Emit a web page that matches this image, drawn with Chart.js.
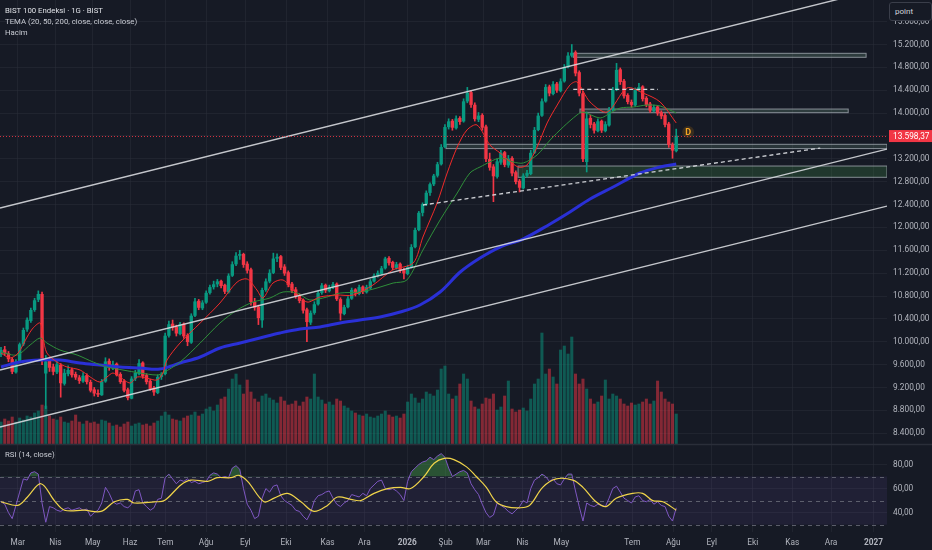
<!DOCTYPE html>
<html><head><meta charset="utf-8">
<script src="https://cdn.jsdelivr.net/npm/chart.js@4.4.1/dist/chart.umd.min.js"></script>
<style>
html,body{margin:0;padding:0;background:#161a25;overflow:hidden;}
#wrap{position:relative;width:932px;height:550px;background:#161a25;}
canvas{display:block;}
.lg{position:absolute;left:5px;font:7.8px Roboto,"Noto Sans",sans-serif;color:#c9ccd4;white-space:nowrap;line-height:11px;}
#pt{position:absolute;left:889px;top:2px;width:36px;height:17px;border:1px solid #3a3e4a;border-radius:3px;background:#161a25;font:8px Roboto,sans-serif;color:#d1d4dc;line-height:17px;padding-left:5px;box-sizing:content-box;}
</style></head><body>
<div id="wrap">
<canvas id="c" width="932" height="550" style="width:932px;height:550px"></canvas>
<div class="lg" style="top:5px;color:#dfe1e6">BIST 100 Endeksi · 1G · BIST</div>
<div class="lg" style="top:16px">TEMA (20, 50, 200, close, close, close)</div>
<div class="lg" style="top:27px">Hacim</div>
<div class="lg" style="top:449px">RSI (14, close)</div>
<div id="pt">point</div>
</div>
<script>
// ---------- DATA (2-day bars) ----------
const opens = [
9780,9860,9790,9690,9470,9660,9960,10220,10370,10560,
10740,10830,9450,9660,9560,9470,9590,9270,9440,9510,
9430,9370,9310,9410,9290,9160,9090,9070,9310,9660,
9540,9610,9430,9310,9160,9010,9360,9440,9630,9410,
9310,9190,9110,9390,9440,10110,10310,10260,10140,10310,
10110,9990,10460,10710,10590,10690,10860,10960,11010,11060,
10990,10870,11160,11360,11510,11530,11360,11260,10690,10610,
10380,10910,11060,11210,11460,11490,11310,11210,11010,10910,
10810,10730,10560,10340,10510,10660,10860,10990,10890,10960,
11010,10740,10490,10610,10760,10910,10840,10960,10870,10940,
11060,11160,11190,11290,11460,11390,11290,11360,11260,11190,
11310,11660,11960,12260,12410,12610,12760,12910,13110,13410,
13760,13860,13740,13910,13860,14210,14360,14140,13890,13960,
13760,13190,13060,12890,13140,13310,13090,13210,12960,12810,
12690,12910,12940,13310,13710,13960,14210,14460,14340,14510,
14390,14560,14810,15010,15060,14710,14340,13150,13910,13810,
13690,13860,13690,13790,14060,14410,14760,14560,14310,14190,
14140,14410,14460,14260,14160,14040,14110,14010,13960,13810,
13440,13340];
const highs = [
9900,9920,9830,9720,9690,9980,10240,10420,10590,10760,
10890,10870,9760,9720,9610,9680,9620,9520,9580,9540,
9470,9410,9460,9440,9330,9200,9160,9340,9720,9700,
9660,9630,9460,9340,9190,9390,9500,9690,9650,9440,
9340,9220,9420,9460,10150,10360,10380,10290,10340,10330,
10140,10490,10760,10740,10720,10890,10990,11060,11090,11080,
11010,11190,11400,11560,11600,11550,11400,11290,10760,10640,
10940,11100,11260,11550,11540,11510,11350,11240,11040,10950,
10840,10750,10590,10540,10700,10890,11020,11010,10990,11040,
11030,10770,10640,10790,10940,10930,10990,10980,10990,11090,
11190,11240,11320,11480,11490,11410,11390,11380,11290,11340,
11700,11990,12280,12430,12640,12780,12930,13140,13450,13800,
13900,13890,13950,13940,14250,14450,14390,14180,14010,13990,
13790,13300,13100,13200,13350,13330,13260,13240,12990,12840,
12940,13000,13350,13750,14000,14250,14500,14490,14550,14540,
14600,14850,15060,15200,15090,14740,14380,14020,13960,13840,
13900,13880,13850,14100,14450,14870,14790,14590,14340,14230,
14440,14520,14480,14290,14190,14140,14130,14040,13990,13840,
13480,13720];
const lows = [
9740,9760,9650,9440,9450,9640,9930,10180,10340,10530,
10700,9600,8830,9480,9420,9440,9030,9240,9400,9380,
9340,9270,9290,9260,9120,9050,9040,9060,9290,9500,
9510,9400,9270,9120,8980,9000,9320,9420,9360,9260,
9150,9060,9090,9340,9420,10080,10200,10100,10120,10060,
9930,9970,10440,10560,10560,10670,10830,10920,10960,10940,
10840,10850,11140,11330,11440,11300,11200,10640,10550,10300,
10250,10880,11030,11190,11400,11260,11160,10960,10860,10760,
10680,10500,10000,10300,10480,10640,10830,10860,10870,10930,
10720,10380,10470,10590,10740,10800,10820,10840,10850,10920,
11040,11130,11170,11270,11340,11260,11270,11210,11100,11170,
11290,11640,11940,12200,12380,12560,12730,12880,13090,13390,
13720,13700,13720,13800,13840,14180,14100,13860,13850,13700,
13150,13000,12450,12860,13100,13060,13050,12900,12760,12620,
12670,12880,12920,13290,13690,13940,14190,14300,14320,14360,
14370,14540,14790,14980,14650,14300,13150,12970,13740,13650,
13670,13660,13670,13770,14040,14390,14500,14260,14160,14100,
14120,14390,14210,14110,14010,14020,13960,13900,13760,13400,
13210,13320];
const closes = [
9850,9800,9700,9480,9650,9950,10200,10380,10550,10720,
10830,9700,9650,9550,9480,9600,9280,9450,9500,9420,
9380,9320,9400,9300,9150,9100,9080,9300,9650,9550,
9600,9420,9300,9150,9020,9350,9450,9620,9400,9300,
9180,9120,9380,9420,10100,10300,10250,10150,10300,10100,
10000,10450,10700,10600,10680,10850,10950,11000,11050,10980,
10880,11150,11350,11500,11520,11350,11250,10700,10600,10420,
10900,11050,11200,11450,11480,11300,11200,11000,10900,10800,
10720,10550,10350,10500,10650,10850,10980,10900,10950,11000,
10750,10500,10600,10750,10900,10850,10950,10880,10950,11050,
11150,11200,11280,11450,11380,11300,11350,11250,11200,11300,
11650,11950,12250,12400,12600,12750,12900,13100,13400,13750,
13850,13750,13900,13850,14200,14350,14150,13900,13950,13750,
13200,13050,12900,13150,13300,13100,13200,12950,12800,12700,
12900,12950,13300,13700,13950,14200,14450,14350,14500,14400,
14550,14800,15000,15050,14700,14350,13200,13900,13800,13700,
13850,13700,13800,14050,14400,14750,14550,14300,14200,14150,
14400,14450,14250,14150,14050,14100,14000,13950,13800,13450,
13350,13598.37];
const volumes = [
44,50,46,54,44,52,48,56,54,62,
66,78,76,56,50,48,54,44,42,46,
58,44,40,46,42,44,40,48,46,42,
36,38,34,40,44,36,40,42,38,40,
36,42,46,56,64,58,50,48,46,52,
56,58,64,56,60,70,74,66,78,90,
94,110,130,140,118,100,128,104,90,84,
96,100,92,88,82,94,86,78,80,86,
76,84,94,90,140,94,88,80,84,78,
90,86,76,72,66,62,58,56,60,54,
52,56,60,66,58,54,56,52,60,84,
100,92,82,90,104,100,96,108,150,156,
100,90,96,120,140,130,86,74,70,80,
92,90,100,68,74,96,126,70,64,68,
72,66,90,120,130,222,140,150,134,120,
188,196,180,214,140,120,130,110,90,80,
84,96,128,90,100,96,90,80,76,82,
78,80,84,90,80,86,126,104,90,84,
80,60];
const rsiValues = [
49,47,40,35,46,57,68,67,73,74,
72,48,32,45,44,42,41,43,44,42,
43,44,42,43,37,40,42,48,61,56,
49,47,48,45,44,47,58,59,48,45,
42,44,51,52,69,72,68,64,67,66,
68,65,66,64,65,66,71,73,72,69,
70,69,77,79,76,60,47,42,35,37,
52,60,57,62,63,54,50,48,46,42,
41,37,34,40,50,54,55,57,58,52,
47,45,48,50,55,54,53,56,54,60,
63,66,67,60,59,60,58,55,50,66,
74,77,80,82,83,86,84,87,89,86,
77,70,72,74,75,73,64,59,55,47,
40,36,38,48,46,44,41,39,42,45,
50,48,60,67,69,72,70,66,68,64,
63,68,72,72,58,45,33,48,46,45,
47,46,45,52,60,62,57,52,50,48,
53,54,50,49,51,47,49,46,45,37,
33,44];
const rsiMaIdx = [0,4.5,7.1,10.7,14.3,17,22.3,26.8,30.4,33.9,35.7,41.1,43.8,48.2,50.9,55.4,58,61.6,63.8,66.1,70.5,73.2,76.8,80.4,83.9,87.5,90.2,93.8,96.4,100,103.6,107.1,109.8,113.4,116.1,118.8,121.4,124.8,127.4,130.1,132.7,135.4,139,141.7,145.2,148.8,153.3,156,159.5,162.2,164.9,169.3,172,174.7,177.4,181];
const rsiMaValues = [49,46,53,64,50,42,42,41,49,51,48,49,50,63,67,66,69,69,71,66,49,52,56,49,41,46,53,51,50,56,60,61,60,70,81,85,84,78,70,61,49,45,44,46,61,68,67,61,49,45,52,56,56,50,49,42];
const tema20Idx = [0,2.4,4.6,7,8.6,10.5,11.3,12.3,15,17.7,21.2,23.9,26.5,28.4,30,31.9,34.6,36.5,39.1,41.8,43.4,44.5,48,53.4,58.7,63.3,66,68.6,70.2,72.9,75.6,78.3,82,85.5,90,94.4,99.7,105,110.5,113.1,116.9,119.6,122.3,124.9,127.6,131.1,133.8,138.6,141,143.7,146.4,149.1,152.5,154.4,157.9,162.5,167.8,172.1,176.7,181];
const tema20Values = [9803,9715,9803,10083,10240,10328,10065,9803,9645,9558,9505,9383,9295,9383,9453,9383,9278,9383,9365,9330,9453,9680,9978,10328,10678,11045,11097,10905,10765,11027,11080,10905,10695,10783,10817,10817,10992,11255,11378,11832,12427,12952,13407,13704,13792,13442,13302,13057,13092,13407,13827,14141,14491,14544,14194,14019,14439,14351,14194,13827];
const tema50Idx = [0,4.3,7.8,10.5,12.3,15.8,20.4,24.7,28.4,32.7,37.3,41.8,43.4,48,53.4,58.7,63.3,67.6,72.1,75.6,79.4,82.8,87.4,90.9,96.2,100.8,105.1,108.8,113.1,117.7,122.3,125.7,128.4,133.8,137.3,140,143.7,147.2,150.7,154.4,156,160.6,163.3,166,169.5,173.2,176.7,181];
const tema50Values = [9820,9768,9943,10065,9978,9855,9768,9645,9558,9505,9453,9418,9453,9645,9978,10328,10555,10695,10765,10870,10852,10730,10783,10852,10870,10940,11027,11080,11605,12130,12602,12952,13057,13214,13144,13127,13267,13529,13757,13967,14019,13914,14002,14089,14106,14141,14124,14002];
const tema200Idx = [0,5.1,10.5,15.8,21.2,26.5,31.9,37.3,42.6,48,53.4,58.7,64.1,69.4,74.8,80.2,85.5,90.9,96.2,101.6,107,112.3,117.7,123.1,128.4,133.8,139.9,147.2,152.5,157.9,164.1,171.3,176.7,181];
const tema200Values = [9558,9645,9680,9680,9628,9593,9558,9540,9523,9628,9733,9890,9978,10065,10153,10223,10258,10328,10380,10433,10520,10643,10870,11220,11465,11657,11797,12060,12269,12497,12707,12952,13057,13109];
const monthTickIdx = [4.48,14.56,24.58,34.58,44.05,54.96,65.5,76.4,87.5,97.4,108.9,119.2,129.3,139.8,150.2,169.25,180.2,190.5,201.5,212.1,222.5,233.9];
const monthLabels = ['Mar','Nis','May','Haz','Tem','Ağu','Eyl','Eki','Kas','Ara','2026','Şub','Mar','Nis','May','Tem','Ağu','Eyl','Eki','Kas','Ara','2027'];
const priceTicks = [8400,8800,9200,9600,10000,10400,10800,11200,11600,12000,12400,12800,13200,13600,14000,14400,14800,15200,15600];
const rsiTicks = [40,60,80];
const rsiLevels = [70,50,30];
const channelIdx = [-0.27, 237.5];
const channelStartPrices = [12339, 9505, 8508];
const channelEndPrices = [16204, 13370, 12373];
const diagDashIdx = [113.1, 219.6];
const diagDashPrices = [12392, 13389];
const flatDashIdx = [153.4, 176.1];
const flatDashPrice = 14416;
const zoneStartIdx = [153.4, 155.2, 119.3, 138.6];
const zoneEndIdx = [231.9, 227.1, 237.5, 237.5];
const zoneTop = [15046, 14071, 13454, 13074];
const zoneBottom = [14976, 14007, 13379, 12877];
const dividendIdx = 184.2;
const dividendPrice = 13669;

// ---------- STYLE ----------
const BG = '#161a25', GRID = 'rgba(42,46,57,0.55)', TXT = '#b2b5be';
const UP = '#089981', DOWN = '#f23645';
const UPV = 'rgba(8,153,129,0.5)', DOWNV = 'rgba(242,54,69,0.5)';
const zoneFills = ['rgba(110,150,130,0.28)','rgba(110,150,130,0.28)','rgba(110,150,130,0.22)','rgba(76,175,80,0.2)'];
const zoneBorder = 'rgba(170,176,186,0.75)';

Chart.defaults.font.family = 'Roboto, "Noto Sans", sans-serif';
Chart.defaults.font.size = 8.3;
Chart.defaults.color = TXT;

const fmtTR = v => {
  const [a, b] = Number(v).toFixed(2).split('.');
  return a.replace(/\B(?=(\d{3})+(?!\d))/g, '.') + ',' + b;
};
const pts = (xs, ys) => xs.map((x, k) => ({x, y: ys[k]}));
const bars = closes.map((_, i) => i);
const up = i => closes[i] >= opens[i];
const lastClose = closes[closes.length - 1];

const line = (data, color, width, extra) => Object.assign({
  type: 'line', data, borderColor: color, borderWidth: width, pointRadius: 0,
  fill: false, yAxisID: 'y', tension: 0
}, extra || {});

const datasets = [
  {type:'bar', label:'Hacim', data: bars.map(i => ({x:i, y:volumes[i]})), yAxisID:'yv',
   backgroundColor: bars.map(i => up(i) ? UPV : DOWNV), barThickness: 2.4, grouped:false, order: 20},
  {type:'bar', label:'wick', data: bars.map(i => ({x:i, y:[lows[i], highs[i]]})), yAxisID:'y',
   backgroundColor: bars.map(i => up(i) ? UP : DOWN), barThickness: 1, grouped:false, order: 18},
  {type:'bar', label:'body', data: bars.map(i => ({x:i, y:[opens[i], closes[i]]})), yAxisID:'y',
   backgroundColor: bars.map(i => up(i) ? UP : DOWN), barThickness: 2.7, minBarLength: 1, grouped:false, order: 17},
  line(pts(tema200Idx, tema200Values), '#2a30d6', 3, {order: 15, tension: 0.35}),
  line(pts(tema50Idx, tema50Values), '#2f8f3a', 1, {order: 14, tension: 0.3}),
  line(pts(tema20Idx, tema20Values), '#f22a2a', 1, {order: 13, tension: 0.3}),
  ...channelStartPrices.map((p, k) => line(pts(channelIdx, [p, channelEndPrices[k]]), 'rgba(215,217,222,0.9)', 1.4, {order: 10})),
  line(pts(diagDashIdx, diagDashPrices), 'rgba(225,227,232,0.9)', 1.3, {order: 9, borderDash:[4,3]}),
  line(pts(flatDashIdx, [flatDashPrice, flatDashPrice]), 'rgba(225,227,232,0.9)', 1.3, {order: 9, borderDash:[4,3]}),
  line(bars.map(i => ({x:i, y:rsiValues[i]})), 'rgba(0,0,0,0)', 0, {yAxisID:'yR', order: 8,
       fill: {target: {value: 70}, above: 'rgba(76,175,80,0.38)', below: 'rgba(0,0,0,0)'}}),
  line(bars.map(i => ({x:i, y:rsiValues[i]})), '#7e57c2', 1, {yAxisID:'yR', order: 7}),
  line(pts(rsiMaIdx, rsiMaValues), '#f0d44a', 1.2, {yAxisID:'yR', order: 6, tension: 0.35})
];

const overlay = {
  id: 'overlay',
  beforeDraw(chart) {
    const {ctx} = chart;
    ctx.save(); ctx.fillStyle = BG; ctx.fillRect(0, 0, chart.width, chart.height); ctx.restore();
  },
  beforeDatasetsDraw(chart) {
    const {ctx, chartArea: a, scales: {x, y, yR}} = chart;
    ctx.save();
    const y70 = yR.getPixelForValue(rsiLevels[0]), y30 = yR.getPixelForValue(rsiLevels[2]);
    ctx.fillStyle = 'rgba(126,87,194,0.10)';
    ctx.fillRect(a.left, y70, a.right - a.left, y30 - y70);
    ctx.setLineDash([4, 4]); ctx.strokeStyle = 'rgba(120,123,134,0.7)'; ctx.lineWidth = 1;
    rsiLevels.forEach(v => {
      const py = Math.round(yR.getPixelForValue(v)) + 0.5;
      ctx.beginPath(); ctx.moveTo(a.left, py); ctx.lineTo(a.right, py); ctx.stroke();
    });
    ctx.setLineDash([]);
    ctx.beginPath(); ctx.rect(a.left, y.top, a.right - a.left, y.bottom - y.top); ctx.clip();
    zoneStartIdx.forEach((s, k) => {
      const x1 = x.getPixelForValue(s), x2 = x.getPixelForValue(zoneEndIdx[k]);
      const t = y.getPixelForValue(zoneTop[k]), b = y.getPixelForValue(zoneBottom[k]);
      ctx.fillStyle = zoneFills[k]; ctx.fillRect(x1, t, x2 - x1, b - t);
      ctx.strokeStyle = zoneBorder; ctx.lineWidth = 1; ctx.strokeRect(x1, t, x2 - x1, b - t);
    });
    ctx.restore();
  },
  afterDatasetsDraw(chart) {
    const {ctx, chartArea: a, scales: {x, y}} = chart;
    ctx.save();
    const py = Math.round(y.getPixelForValue(lastClose)) + 0.5;
    ctx.setLineDash([1, 2]); ctx.strokeStyle = 'rgba(242,54,69,0.85)'; ctx.lineWidth = 1;
    ctx.beginPath(); ctx.moveTo(a.left, py); ctx.lineTo(a.right, py); ctx.stroke();
    ctx.setLineDash([]);
    const dx = x.getPixelForValue(dividendIdx), dy = y.getPixelForValue(dividendPrice);
    ctx.fillStyle = 'rgba(255,152,0,0.15)';
    ctx.beginPath(); ctx.arc(dx, dy, 6, 0, Math.PI * 2); ctx.fill();
    ctx.fillStyle = '#f5a623'; ctx.font = 'bold 9px Roboto, sans-serif';
    ctx.textAlign = 'center'; ctx.textBaseline = 'middle'; ctx.fillText('D', dx, dy + 0.5);
    ctx.restore();
  },
  afterDraw(chart) {
    const {ctx, chartArea: a, scales: {y}} = chart;
    ctx.save();
    ctx.strokeStyle = '#2a2e39'; ctx.lineWidth = 1.5;
    ctx.beginPath(); ctx.moveTo(0, y.bottom + 0.5); ctx.lineTo(chart.width, y.bottom + 0.5); ctx.stroke();
    const py = y.getPixelForValue(lastClose);
    ctx.fillStyle = '#f23645'; ctx.fillRect(a.right + 2, py - 6, chart.width - a.right - 2, 12);
    ctx.fillStyle = '#ffffff'; ctx.font = '8.3px Roboto, sans-serif';
    ctx.textAlign = 'left'; ctx.textBaseline = 'middle';
    ctx.fillText(fmtTR(lastClose), a.right + 6, py + 0.5);
    ctx.restore();
  }
};

new Chart(document.getElementById('c'), {
  type: 'bar',
  data: {datasets},
  plugins: [overlay],
  options: {
    responsive: false, animation: false, events: [],
    layout: {padding: 0},
    plugins: {legend: {display: false}, tooltip: {enabled: false}},
    scales: {
      x: {
        type: 'linear', position: 'bottom', min: -0.27, max: 237.5, offset: false,
        grid: {color: GRID, drawTicks: false, offset: false}, border: {display: false},
        ticks: {color: TXT, padding: 6, autoSkip: false, maxRotation: 0,
          font: c => ({size: 8.3, weight: /^\d{4}$/.test(monthLabels[c.index] || '') ? 'bold' : 'normal'}),
          callback: (v, i) => monthLabels[i]},
        afterBuildTicks: s => { s.ticks = monthTickIdx.map(v => ({value: v})); },
        afterFit: s => { s.height = 18; s.paddingLeft = 0; s.paddingRight = 0; }
      },
      y: {
        type: 'linear', position: 'right', stack: 'pane', stackWeight: 444,
        min: 8211, max: 15978.5,
        grid: {color: GRID, drawTicks: false}, border: {display: false},
        ticks: {color: TXT, padding: 6, autoSkip: false, callback: v => fmtTR(v)},
        afterBuildTicks: s => { s.ticks = priceTicks.map(v => ({value: v})); },
        afterFit: s => { s.width = 45; s.paddingTop = 0; s.paddingBottom = 0; }
      },
      yR: {
        type: 'linear', position: 'right', stack: 'pane', stackWeight: 88,
        min: 23.9, max: 97,
        grid: {color: GRID, drawTicks: false}, border: {display: false},
        ticks: {color: TXT, padding: 6, autoSkip: false, callback: v => fmtTR(v)},
        afterBuildTicks: s => { s.ticks = rsiTicks.map(v => ({value: v})); },
        afterFit: s => { s.width = 45; s.paddingTop = 0; s.paddingBottom = 0; }
      },
      yv: {type: 'linear', display: false, position: 'left', min: -176, max: 888}
    }
  }
});
</script>
</body></html>
